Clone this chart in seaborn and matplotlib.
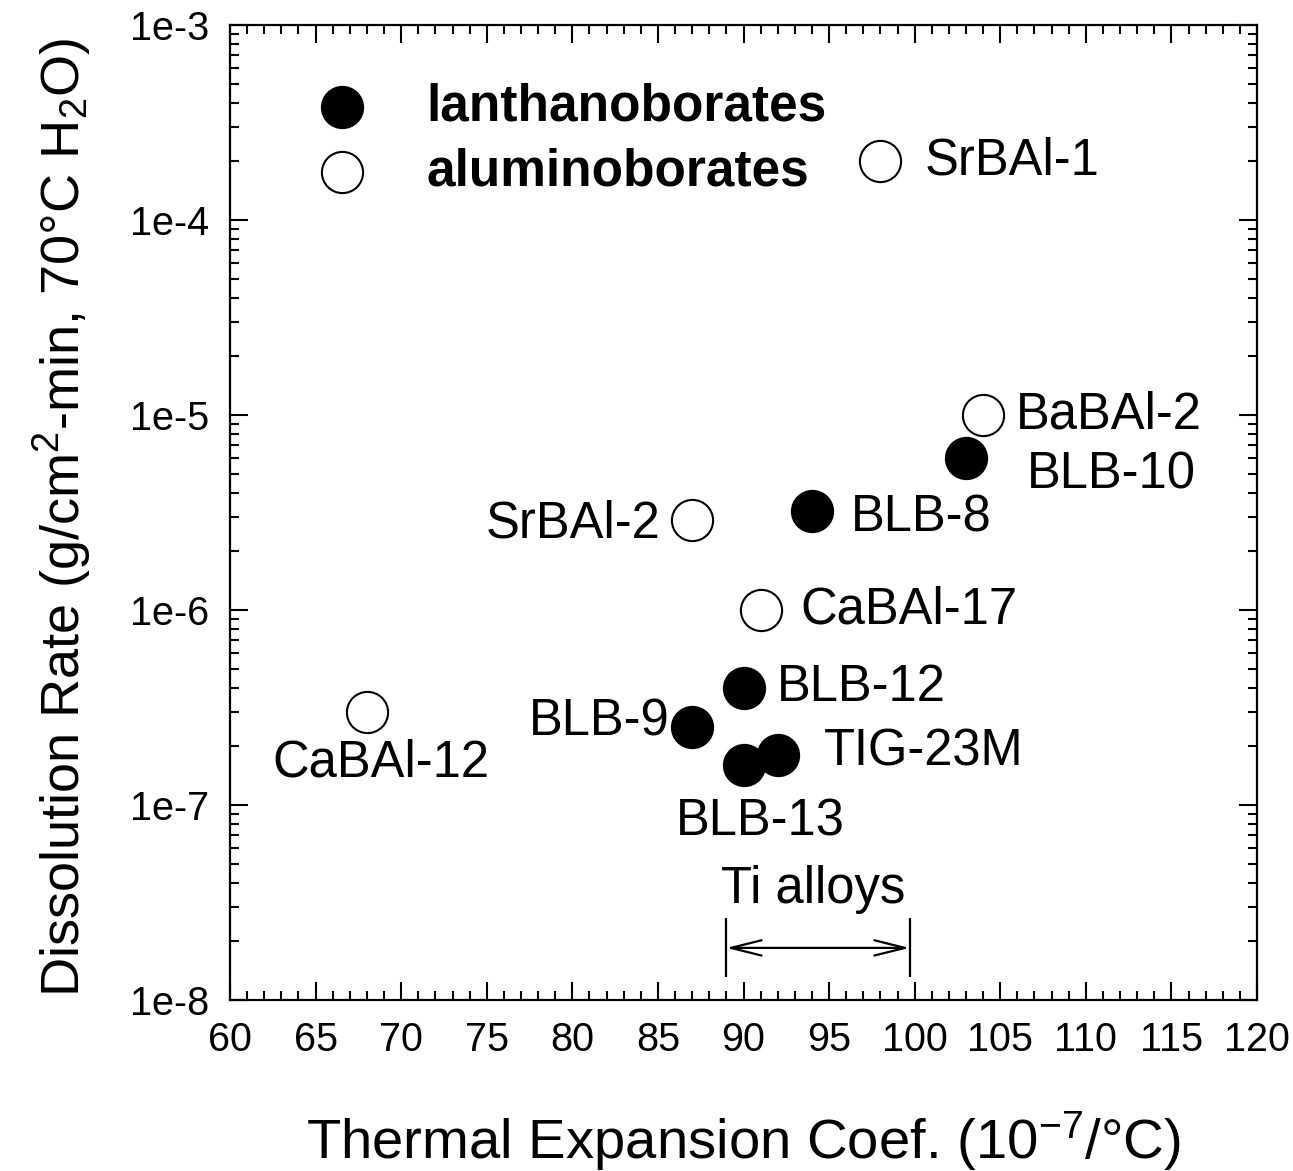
import numpy as np
import pandas as pd
import matplotlib
matplotlib.use('Agg')
import matplotlib.pyplot as plt
import seaborn as sns
from matplotlib.ticker import MultipleLocator, LogLocator, FuncFormatter, NullFormatter

# ---- data ----
lan_names = ['BLB-10', 'BLB-8', 'BLB-12', 'BLB-9', 'BLB-13', 'TIG-23M']
lan_cte = [103, 94, 90, 87, 90, 92]
lan_rate = [6.0e-6, 3.2e-6, 4.0e-7, 2.5e-7, 1.6e-7, 1.8e-7]

alu_names = ['SrBAl-1', 'BaBAl-2', 'SrBAl-2', 'CaBAl-17', 'CaBAl-12']
alu_cte = [98, 104, 87, 91, 68]
alu_rate = [2.0e-4, 1.0e-5, 2.9e-6, 1.0e-6, 3.0e-7]

ti_range = [89, 99.7]
ti_label = 'Ti alloys'

x_limits = [60, 120]
y_limits = [1e-8, 1e-3]

# label offsets in pixels (dx, dy) and horizontal alignment
label_style = {
    'SrBAl-1': (44, 0, 'left'),
    'BaBAl-2': (33, 0, 'left'),
    'BLB-10': (61, -17, 'left'),
    'BLB-8': (39, -7, 'left'),
    'SrBAl-2': (-32, -4, 'right'),
    'CaBAl-17': (40, 0, 'left'),
    'BLB-12': (33, 0, 'left'),
    'BLB-9': (-23, 5, 'right'),
    'TIG-23M': (46, 3, 'left'),
    'BLB-13': (17, -57, 'center'),
    'CaBAl-12': (-95, -51, 'left'),
}

sns.set_style('ticks')
plt.rcParams['font.family'] = ['Liberation Sans', 'DejaVu Sans']
plt.rcParams['mathtext.default'] = 'regular'
plt.rcParams['text.color'] = 'black'
plt.rcParams['axes.labelcolor'] = 'black'
plt.rcParams['xtick.color'] = 'black'
plt.rcParams['ytick.color'] = 'black'

lan_df = pd.DataFrame({'cte': lan_cte, 'rate': lan_rate, 'name': lan_names})
alu_df = pd.DataFrame({'cte': alu_cte, 'rate': alu_rate, 'name': alu_names})

fig = plt.figure(figsize=(12.93, 11.71), dpi=100)
ax = fig.add_axes([230/1293, 1 - 1000/1171, 1027/1293, 975/1171])

msize = 880
sns.scatterplot(data=lan_df, x='cte', y='rate', ax=ax, color='black',
                edgecolor='black', s=msize, linewidth=1.5,
                label='lanthanoborates', zorder=3)
sns.scatterplot(data=alu_df, x='cte', y='rate', ax=ax, color='white',
                edgecolor='black', s=msize, linewidth=1.5,
                label='aluminoborates', zorder=3)

ax.set_xscale('linear')
ax.set_yscale('log')
ax.set_xlim(*x_limits)
ax.set_ylim(*y_limits)

lab_fs = 36.5
for df in (lan_df, alu_df):
    for _, r in df.iterrows():
        dx, dy, ha = label_style[r['name']]
        ax.annotate(r['name'], xy=(r['cte'], r['rate']), xytext=(dx, dy),
                    textcoords='offset pixels', ha=ha, va='center',
                    fontsize=lab_fs, color='black')

# Ti alloys range
arrow_y = 1.85e-8
ax.vlines(ti_range, 1.31e-8, 2.63e-8, colors='black', lw=1.6)
ax.annotate('', xy=(ti_range[0], arrow_y), xytext=(ti_range[1], arrow_y),
            arrowprops=dict(arrowstyle='<->,head_length=2.2,head_width=0.55',
                            lw=1.6, color='black', shrinkA=0, shrinkB=0))
ax.text(np.mean(ti_range) - 0.3, 3.7e-8, ti_label, ha='center', va='center',
        fontsize=lab_fs, color='black')

# ticks
ax.xaxis.set_major_locator(MultipleLocator(5))
ax.xaxis.set_minor_locator(MultipleLocator(1))
ax.yaxis.set_major_locator(LogLocator(base=10, numticks=10))
ax.yaxis.set_minor_locator(LogLocator(base=10, subs=np.arange(2, 10), numticks=50))
ax.yaxis.set_minor_formatter(NullFormatter())
ax.yaxis.set_major_formatter(FuncFormatter(lambda v, p: f"1e{int(round(np.log10(v)))}"))
ax.tick_params(which='both', direction='in', top=True, right=True,
               width=1.5, colors='black', labelsize=28.5)
ax.tick_params(which='major', length=13, pad=15)
ax.tick_params(which='minor', length=6.5)
for s in ax.spines.values():
    s.set_linewidth(1.6)
    s.set_color('black')

ax.set_xlabel('Thermal Expansion Coef. (10$^{-7}$/°C)', fontsize=40.5)
ax.set_ylabel('Dissolution Rate (g/cm$^{2}$-min, 70°C H$_{2}$O)', fontsize=39)
ax.xaxis.set_label_coords(0.5, -0.112)
ax.yaxis.set_label_coords(-0.133, 0.495)

leg = ax.legend(loc='upper left', bbox_to_anchor=(0.084, 0.941), frameon=False,
                prop=dict(weight='bold', size=37), handlelength=1.0,
                handletextpad=1.15, labelspacing=0.32, borderpad=0,
                borderaxespad=0)

fig.savefig('out.png', dpi=100)
